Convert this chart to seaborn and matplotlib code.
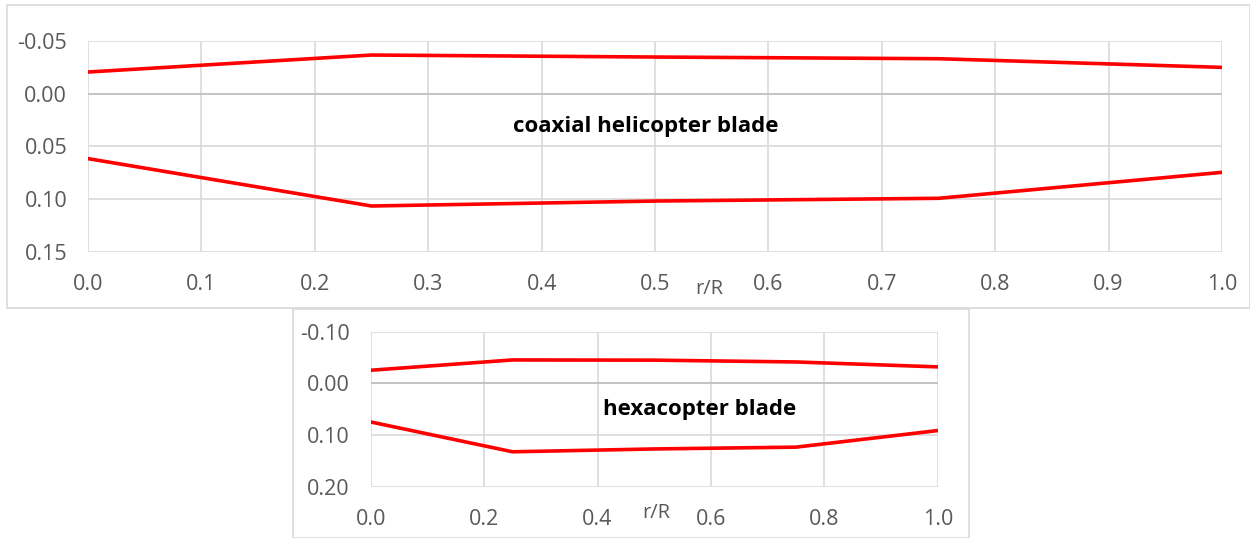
import matplotlib
matplotlib.use("Agg")
import matplotlib.pyplot as plt
import seaborn as sns
import pandas as pd
from matplotlib.patches import Rectangle

# ---- data ----
r_R = [0.0, 0.25, 0.5, 0.75, 1.0]
coax_upper = [-0.0206, -0.0367, -0.0348, -0.0332, -0.0250]
coax_lower = [0.0615, 0.1064, 0.1017, 0.0991, 0.0745]
hexa_upper = [-0.0255, -0.0454, -0.0450, -0.0415, -0.0320]
hexa_lower = [0.0744, 0.1320, 0.1265, 0.1230, 0.0910]

coax_xticks = [0.0, 0.1, 0.2, 0.3, 0.4, 0.5, 0.6, 0.7, 0.8, 0.9, 1.0]
coax_yticks = [-0.05, 0.00, 0.05, 0.10, 0.15]
hexa_xticks = [0.0, 0.2, 0.4, 0.6, 0.8, 1.0]
hexa_yticks = [-0.10, 0.00, 0.10, 0.20]

sns.set_theme(style="white")
plt.rcParams['font.family'] = ['Open Sans', 'DejaVu Sans']

GRID = "#d9d9d9"
TXT = "#595959"

fig = plt.figure(figsize=(12.5, 5.38), dpi=100)

# chart frames
fig.patches.append(Rectangle((7/1250, 1-308/538), (1250-7)/1250, (308-5)/538,
                             transform=fig.transFigure, fill=False, edgecolor=GRID, lw=1.2,
                             zorder=-2))
fig.patches.append(Rectangle((293/1250, 0), (969-293)/1250, (538-309)/538,
                             transform=fig.transFigure, fill=True, facecolor="white",
                             edgecolor=GRID, lw=1.2, zorder=-1))

ax1 = fig.add_axes([0.0704, 0.5316, 0.9072, 0.3922])
ax2 = fig.add_axes([0.2966, 0.0948, 0.4536, 0.2887])


def style(ax, xticks, yticks, title, tpos):
    ax.set_facecolor("none")
    ax.set_xlim(xticks[0], xticks[-1])
    ax.set_ylim(yticks[-1], yticks[0])
    ax.set_xticks(xticks)
    ax.set_yticks(yticks)
    ax.set_xticklabels([f"{v:.1f}" for v in xticks])
    ax.set_yticklabels([f"{v:.2f}" for v in yticks])
    for s in ax.spines.values():
        s.set_visible(False)
    ax.grid(True, color=GRID, lw=1.2)
    ax.axhline(0, color="#bfbfbf", lw=1.2, zorder=1.5)
    ax.tick_params(axis="x", length=0, pad=16, labelsize=15.5, labelcolor=TXT)
    ax.tick_params(axis="y", length=0, pad=15, labelsize=15.5, labelcolor=TXT)
    ax.set_xlabel("")
    ax.set_ylabel("")
    ax.text(tpos[0], tpos[1], title, transform=ax.transAxes, ha="center", va="center",
            fontsize=16, fontweight="bold", color="black")


for ax, up, lo in [(ax1, coax_upper, coax_lower), (ax2, hexa_upper, hexa_lower)]:
    sns.lineplot(x=r_R, y=up, ax=ax, color="#ff0000", lw=2.6, zorder=3)
    sns.lineplot(x=r_R, y=lo, ax=ax, color="#ff0000", lw=2.6, zorder=3)

style(ax1, coax_xticks, coax_yticks, "coaxial helicopter blade", (0.4916, 0.597))
style(ax2, hexa_xticks, hexa_yticks, "hexacopter blade", (0.58, 0.496))

fig.text(0.5676, 1-289/538, "r/R", ha="center", va="center", fontsize=14.5, color=TXT)
fig.text(0.5247, 1-513/538, "r/R", ha="center", va="center", fontsize=14.5, color=TXT)

fig.savefig("out.png", dpi=100)
